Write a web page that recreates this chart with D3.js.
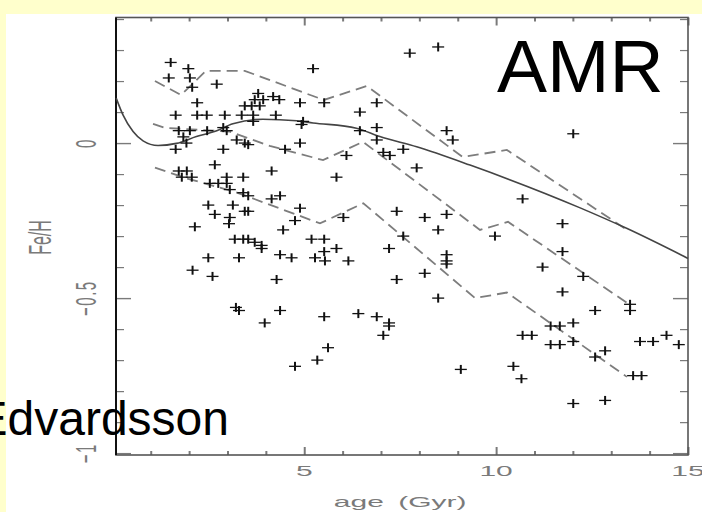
<!DOCTYPE html>
<html>
<head>
<meta charset="utf-8">
<script src="https://cdn.jsdelivr.net/npm/d3@7/dist/d3.min.js"></script>
<style>
  html, body { margin: 0; padding: 0; background: #ffffcc; overflow: hidden; }
  svg { display: block; }
</style>
</head>
<body>
<svg id="chart" width="702" height="512"></svg>
<script>
// Individual stars: [age in Gyr, [Fe/H]]
const stars = [
  [1.52,0.26],[1.98,0.24],[1.47,0.21],[2.02,0.21],[2.08,0.18],[2.72,0.19],[2.21,0.13],
  [1.65,0.09],[2.21,0.09],[2.46,0.09],[2.93,0.09],[1.73,0.04],[2.02,0.04],[2.47,0.04],
  [2.89,0.05],[2.98,0.04],[1.85,0.02],[1.93,0.00],[1.65,-0.02],[2.89,-0.02],[2.67,-0.07],
  [1.73,-0.09],[1.81,-0.11],[1.94,-0.09],[2.07,-0.11],[2.98,-0.11],[2.54,-0.13],[2.76,-0.13],
  [2.98,-0.13],[3.06,-0.15],[2.50,-0.20],[3.14,-0.20],[2.67,-0.23],[3.06,-0.24],[3.04,-0.26],
  [2.15,-0.27],[3.19,-0.31],[2.50,-0.37],[3.30,-0.37],[2.09,-0.41],[2.61,-0.43],[3.22,-0.53],
  [3.30,-0.54],
  [8.49,0.31],[7.75,0.29],[5.23,0.24],[3.80,0.16],[3.93,0.14],[4.19,0.15],[4.35,0.14],
  [3.71,0.14],[3.45,0.12],[3.63,0.12],[3.84,0.12],[4.89,0.13],[5.52,0.13],[6.89,0.13],
  [6.45,0.10],[3.37,0.09],[3.67,0.09],[4.26,0.09],[3.67,0.07],[4.97,0.07],[4.93,0.06],
  [6.45,0.04],[6.89,0.05],[8.71,0.04],[8.87,0.01],[6.89,0.01],[3.24,0.01],[3.45,0.00],
  [3.54,-0.005],[4.89,0.00],[4.50,-0.02],[6.10,-0.04],[7.06,-0.03],[7.23,-0.04],[7.58,-0.02],
  [7.93,-0.08],[3.41,-0.11],[4.15,-0.09],[5.84,-0.11],
  [3.41,-0.16],[3.54,-0.17],[4.15,-0.18],[4.37,-0.17],[4.89,-0.21],[3.45,-0.22],[3.54,-0.22],
  [4.76,-0.25],[6.02,-0.24],[7.41,-0.22],[8.14,-0.24],[8.71,-0.23],[4.45,-0.28],[8.49,-0.28],
  [7.58,-0.30],[3.41,-0.31],[3.54,-0.31],[3.71,-0.32],[3.89,-0.33],[3.89,-0.34],[5.19,-0.31],
  [5.52,-0.31],[5.52,-0.35],[5.84,-0.34],[7.21,-0.34],[8.71,-0.36],[8.71,-0.38],[8.71,-0.39],
  [4.37,-0.36],[4.67,-0.37],[5.28,-0.37],[5.54,-0.38],[6.15,-0.38],[8.14,-0.42],[4.28,-0.44],
  [7.41,-0.44],[8.49,-0.50],[4.37,-0.54],[3.97,-0.58],[5.52,-0.56],[6.41,-0.55],[6.89,-0.56],
  [7.21,-0.58],[7.21,-0.59],[7.06,-0.62],[5.62,-0.66],[4.76,-0.72],[5.34,-0.70],[9.08,-0.73],
  [10.45,-0.72],[10.66,-0.76],[12.01,-0.84],[12.84,-0.83],[11.42,-0.65],[11.66,-0.65],[12.01,-0.64],
  [12.58,-0.69],[12.84,-0.67],[13.57,-0.75],[13.79,-0.75],[13.75,-0.64],[14.09,-0.64],[14.76,-0.65],
  [10.69,-0.18],[11.73,-0.26],[9.97,-0.30],[11.73,-0.35],[11.21,-0.40],[12.27,-0.43],[11.73,-0.48],
  [12.58,-0.54],[13.49,-0.52],[13.49,-0.54],[11.42,-0.59],[11.66,-0.59],[12.01,-0.58],[10.69,-0.62],
  [10.93,-0.62],[14.44,-0.62],[12.01,0.03]
];

// Model age-metallicity relation (smooth curve)
const meanRelation = [
  [0.1,0.145],[0.28,0.090],[0.54,0.037],[0.80,0.007],[1.19,-0.008],[1.67,-0.001],
  [2.19,0.021],[2.72,0.040],[3.14,0.062],[3.92,0.077],[4.80,0.072],[5.23,0.065],
  [6.36,0.048],[6.97,0.021],[7.93,-0.012],[9.32,-0.071],[12.19,-0.209],[13.40,-0.275],[15.0,-0.372]
];

// Binned envelopes (dashed)
const upperEnvelope = [
  [1.11,0.200],[1.79,0.155],[2.44,0.233],[3.45,0.233],[5.51,0.139],[6.63,0.184],
  [9.13,-0.045],[10.28,-0.022],[13.41,-0.280]
];
const middleEnvelope = [
  [1.06,0.062],[1.37,0.049],[3.06,0.037],[4.10,-0.009],[5.49,-0.055],[6.53,0.004],
  [9.58,-0.280],[10.31,-0.254],[13.49,-0.522]
];
const lowerEnvelope = [
  [1.11,-0.079],[1.94,-0.114],[3.19,-0.157],[5.41,-0.259],[6.54,-0.194],
  [9.45,-0.500],[10.28,-0.482],[13.41,-0.754]
];

const xMajorTicks = [5, 10, 15];
const xMinorTicks = [1,2,3,4,6,7,8,9,11,12,13,14];
const yMajorTicks = [0, -0.5, -1];
const yMinorTicks = [0.4,0.3,0.2,0.1,-0.1,-0.2,-0.3,-0.4,-0.6,-0.7,-0.8,-0.9];
const xTickText = ["5", "10", "15"];
const yTickText = ["0", "\u22120.5", "\u22121"];
const xTitle = "age (Gyr)";
const yTitle = "Fe/H";
const heading = "AMR";
const credit = "Edvardsson";

const svg = d3.select("#chart");
const W = 702, H = 512;
const plot = { left: 116, right: 688, top: 17.5, bottom: 455 };

// white slide panel
svg.append("rect").attr("x", 6).attr("y", 14).attr("width", W - 6).attr("height", H - 14).attr("fill", "#ffffff");

const x = d3.scaleLinear().domain([0.095, 15]).range([plot.left, plot.right]);
const y = d3.scaleLinear().domain([-1.006, 0.405]).range([plot.bottom, plot.top]);

const labelFont = "'Liberation Sans', Arial, Helvetica, sans-serif";
const tickGrey = "#7a7a7a";

function styleAxis(g, width) {
  g.select(".domain").remove();
  g.selectAll(".tick line").attr("stroke", tickGrey).attr("stroke-width", width);
  g.selectAll(".tick text").remove();
}

// inward tick marks on all four sides
svg.append("g").attr("transform", `translate(${plot.left},0)`)
  .call(d3.axisLeft(y).tickValues(yMinorTicks).tickSize(-8).tickFormat(""))
  .call(g => styleAxis(g, 1.2));
svg.append("g").attr("transform", `translate(${plot.left},0)`)
  .call(d3.axisLeft(y).tickValues(yMajorTicks).tickSize(-15).tickFormat(""))
  .call(g => styleAxis(g, 1.4));
svg.append("g").attr("transform", `translate(${plot.right},0)`)
  .call(d3.axisRight(y).tickValues(yMinorTicks).tickSize(-8).tickFormat(""))
  .call(g => styleAxis(g, 1.2));
svg.append("g").attr("transform", `translate(${plot.right},0)`)
  .call(d3.axisRight(y).tickValues(yMajorTicks).tickSize(-15).tickFormat(""))
  .call(g => styleAxis(g, 1.4));
svg.append("g").attr("transform", `translate(0,${plot.bottom})`)
  .call(d3.axisBottom(x).tickValues(xMinorTicks).tickSize(-4).tickFormat(""))
  .call(g => styleAxis(g, 2));
svg.append("g").attr("transform", `translate(0,${plot.bottom})`)
  .call(d3.axisBottom(x).tickValues(xMajorTicks).tickSize(-8).tickFormat(""))
  .call(g => styleAxis(g, 2));
svg.append("g").attr("transform", `translate(0,${plot.top})`)
  .call(d3.axisTop(x).tickValues(xMinorTicks).tickSize(-4).tickFormat(""))
  .call(g => styleAxis(g, 2));
svg.append("g").attr("transform", `translate(0,${plot.top})`)
  .call(d3.axisTop(x).tickValues(xMajorTicks).tickSize(-8).tickFormat(""))
  .call(g => styleAxis(g, 2));

// frame
svg.append("rect")
  .attr("x", plot.left).attr("y", plot.top)
  .attr("width", plot.right - plot.left).attr("height", plot.bottom - plot.top)
  .attr("fill", "none").attr("stroke", "#555").attr("stroke-width", 1.6);
svg.append("line")
  .attr("x1", plot.left).attr("x2", plot.left).attr("y1", plot.top).attr("y2", plot.bottom)
  .attr("stroke", "#111").attr("stroke-width", 2);

// envelopes
const lineGen = d3.line().x(d => x(d[0])).y(d => y(d[1]));
[upperEnvelope, middleEnvelope, lowerEnvelope].forEach(env => {
  svg.append("path").attr("d", lineGen(env))
    .attr("fill", "none").attr("stroke", "#7d7d7d").attr("stroke-width", 1.8)
    .attr("stroke-dasharray", "11,6");
});

// mean relation
const smoothGen = d3.line().curve(d3.curveMonotoneX).x(d => x(d[0])).y(d => y(d[1]));
svg.append("path").attr("d", smoothGen(meanRelation))
  .attr("fill", "none").attr("stroke", "#444").attr("stroke-width", 1.6);

// star markers (+)
const marks = svg.append("g").attr("stroke", "#111");
marks.selectAll("g.star").data(stars).join("g").attr("class", "star")
  .each(function (d) {
    const g = d3.select(this), cx = x(d[0]), cy = y(d[1]);
    g.append("line").attr("x1", cx - 6).attr("x2", cx + 6).attr("y1", cy).attr("y2", cy).attr("stroke-width", 1.3);
    g.append("line").attr("x1", cx).attr("x2", cx).attr("y1", cy - 4.5).attr("y2", cy + 4.5).attr("stroke-width", 2);
  });

// horizontally stretched tick labels
xMajorTicks.forEach((v, i) => {
  svg.append("g").attr("transform", `translate(${x(v)},476) scale(2,1)`)
    .append("text").attr("text-anchor", "middle")
    .attr("font-family", labelFont).attr("font-size", 15).attr("fill", tickGrey)
    .text(xTickText[i]);
});
yMajorTicks.forEach((v, i) => {
  svg.append("g").attr("transform", `translate(85,${y(v)}) scale(2,1) rotate(-90)`)
    .append("text").attr("text-anchor", "middle").attr("dy", "0.36em")
    .attr("font-family", labelFont).attr("font-size", 15).attr("fill", tickGrey)
    .attr("letter-spacing", 1.5)
    .text(yTickText[i]);
});

// axis titles
svg.append("g").attr("transform", `translate(${x(7.5)},507) scale(2,1)`)
  .append("text").attr("text-anchor", "middle")
  .attr("font-family", labelFont).attr("font-size", 15).attr("fill", tickGrey)
  .attr("word-spacing", 3)
  .text(xTitle);
svg.append("g").attr("transform", `translate(39.5,237.5) scale(2,1) rotate(-90)`)
  .append("text").attr("text-anchor", "middle").attr("dy", "0.36em")
  .attr("font-family", labelFont).attr("font-size", 16).attr("fill", tickGrey)
  .text(yTitle);

// slide annotations
svg.append("text").attr("x", 497).attr("y", 92)
  .attr("font-family", labelFont).attr("font-size", 75).attr("fill", "#000")
  .text(heading);
svg.append("text").attr("x", 229).attr("y", 435).attr("text-anchor", "end")
  .attr("font-family", labelFont).attr("font-size", 48).attr("fill", "#000")
  .text(credit);
</script>
</body>
</html>
